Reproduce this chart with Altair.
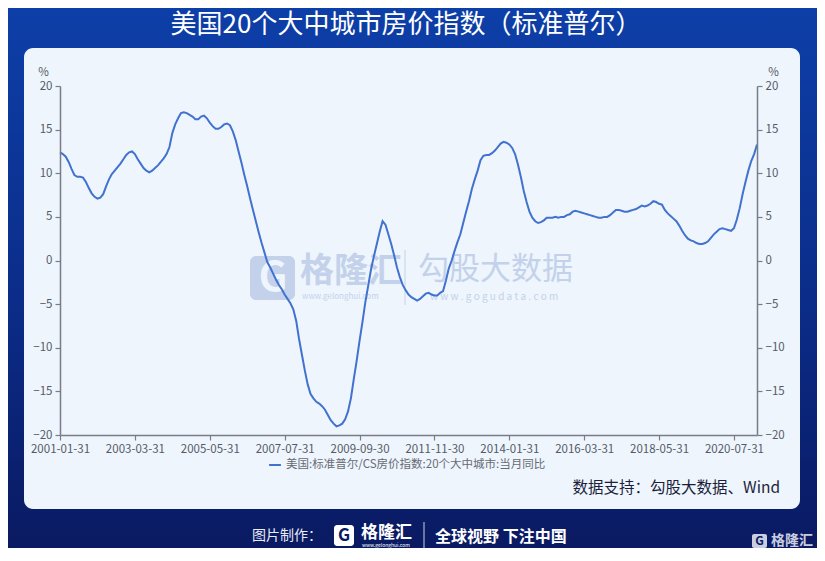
import altair as alt
import pandas as pd

TITLE = "美国20个大中城市房价指数（标准普尔）"
SERIES_NAME = "美国:标准普尔/CS房价指数:20个大中城市:当月同比"
SOURCE = "数据支持：勾股大数据、Wind"
FIRST_MONTH = "2001-01-31"
TICK_STEP = 26  # the x axis shows one label every 26 months

# S&P/Case-Shiller 20-city composite, year-over-year change (%)
yoy_2001 = [12.4, 12.2, 11.9, 11.3, 10.5, 9.8, 9.6, 9.6, 9.5, 9.0, 8.3, 7.7]
yoy_2002 = [7.3, 7.1, 7.2, 7.6, 8.5, 9.3, 9.9, 10.3, 10.7, 11.1, 11.6, 12.1]
yoy_2003 = [12.4, 12.5, 12.2, 11.6, 11.1, 10.6, 10.3, 10.1, 10.3, 10.6, 10.9, 11.3]
yoy_2004 = [11.7, 12.2, 13.0, 14.6, 15.6, 16.3, 16.9, 17.0, 16.9, 16.7, 16.5, 16.2]
yoy_2005 = [16.2, 16.5, 16.6, 16.3, 15.8, 15.4, 15.1, 15.1, 15.3, 15.6, 15.7, 15.5]
yoy_2006 = [14.8, 13.8, 12.5, 11.2, 9.8, 8.5, 7.1, 5.8, 4.5, 3.2, 2.0, 0.9]
yoy_2007 = [-0.2, -0.8, -1.5, -2.2, -2.8, -3.3, -3.9, -4.4, -4.9, -5.6, -6.9, -9.0]
yoy_2008 = [-10.8, -12.6, -14.2, -15.3, -15.8, -16.2, -16.4, -16.7, -17.1, -17.7, -18.3, -18.7]
yoy_2009 = [-19.0, -18.9, -18.7, -18.2, -17.3, -15.8, -13.6, -11.5, -9.2, -7.1, -4.8, -2.9]
yoy_2010 = [-1.0, 0.5, 1.9, 3.3, 4.5, 4.1, 3.0, 1.9, 0.6, -0.8, -1.9, -2.8]
yoy_2011 = [-3.4, -3.9, -4.2, -4.4, -4.6, -4.4, -4.1, -3.8, -3.7, -3.9, -4.0, -4.0]
yoy_2012 = [-3.7, -3.5, -2.3, -0.9, 0.0, 1.1, 2.1, 3.0, 4.3, 5.6, 6.8, 8.2]
yoy_2013 = [9.3, 10.3, 11.5, 12.0, 12.1, 12.1, 12.3, 12.6, 13.0, 13.4, 13.6, 13.5]
yoy_2014 = [13.3, 12.9, 12.2, 11.0, 9.6, 8.0, 6.7, 5.6, 4.9, 4.5, 4.3, 4.4]
yoy_2015 = [4.6, 4.9, 4.9, 4.9, 5.0, 4.9, 5.0, 5.0, 5.2, 5.3, 5.6, 5.7]
yoy_2016 = [5.6, 5.5, 5.4, 5.3, 5.2, 5.1, 5.0, 4.9, 4.9, 5.0, 5.0, 5.2]
yoy_2017 = [5.5, 5.8, 5.8, 5.7, 5.6, 5.6, 5.7, 5.8, 5.9, 6.1, 6.3, 6.2]
yoy_2018 = [6.3, 6.5, 6.8, 6.7, 6.5, 6.4, 5.8, 5.4, 5.1, 4.8, 4.5, 4.0]
yoy_2019 = [3.4, 2.9, 2.5, 2.3, 2.2, 2.0, 1.9, 1.9, 2.0, 2.2, 2.6, 3.0]
yoy_2020 = [3.3, 3.6, 3.7, 3.6, 3.5, 3.4, 3.7, 4.7, 6.0, 7.6, 9.0, 10.3]
yoy_2021 = [11.4, 12.2, 13.3]

yoy = (yoy_2001 + yoy_2002 + yoy_2003 + yoy_2004 + yoy_2005 + yoy_2006
       + yoy_2007 + yoy_2008 + yoy_2009 + yoy_2010 + yoy_2011 + yoy_2012
       + yoy_2013 + yoy_2014 + yoy_2015 + yoy_2016 + yoy_2017 + yoy_2018
       + yoy_2019 + yoy_2020 + yoy_2021)

n = len(yoy)
months = pd.date_range(FIRST_MONTH, periods=n, freq="ME")
tick_idx = list(range(0, n, TICK_STEP))
tick_labels = [months[i].strftime("%Y-%m-%d") for i in tick_idx]

df = pd.DataFrame({"idx": range(n), "yoy": yoy, "series": SERIES_NAME})

FONT = "Noto Sans CJK SC"
LINE_COLOR = "#4172cf"
AXIS_COLOR = "#7a7d86"
LABEL_COLOR = "#555a66"
PANEL_COLOR = "#eef5fd"
W, H = 697, 349
PAD = {"left": 52, "top": 78, "right": 60, "bottom": 113}

one = pd.DataFrame({"a": [0]})


def box(x, x2, y, y2, color, radius=0, opacity=1.0):
    return alt.Chart(one).mark_rect(
        color=color, cornerRadius=radius, opacity=opacity
    ).encode(x=alt.value(x), x2=alt.value(x2), y=alt.value(y), y2=alt.value(y2))


def label(text, x, y, size, color, weight="normal", align="left", opacity=1.0):
    return alt.Chart(pd.DataFrame({"t": [text]})).mark_text(
        align=align, baseline="middle", font=FONT, fontSize=size,
        fontWeight=weight, color=color, opacity=opacity,
    ).encode(text="t:N", x=alt.value(x), y=alt.value(y))


# page background (blue gradient) and the light panel
background = box(
    -PAD["left"], W + PAD["right"], -PAD["top"], H + PAD["bottom"],
    alt.Gradient(
        gradient="linear", x1=0, x2=0, y1=0, y2=1,
        stops=[
            alt.GradientStop(color="#0d3fa8", offset=0),
            alt.GradientStop(color="#0b2c88", offset=0.55),
            alt.GradientStop(color="#0a1a62", offset=1),
        ],
    ),
)
panel = box(-36, 740, -38, 423, PANEL_COLOR, radius=9)

# watermark
wm_color = "#c3d2ea"
watermark = [
    box(190, 235, 170, 214, wm_color, radius=6),
    label("G", 213, 193, 40, PANEL_COLOR, weight="bold", align="center"),
    label("格隆汇", 240, 186, 34, wm_color, weight="bold"),
    label("www.gelonghui.com", 242, 211, 8, wm_color),
    box(344.5, 345.5, 164, 219, wm_color),
    label("勾股大数据", 358, 184, 31, wm_color),
    label("w w w . g o g u d a t a . c o m", 370, 211, 10, wm_color),
]

x_enc = alt.X(
    "idx:Q",
    scale=alt.Scale(domain=[0, n - 1], nice=False, zero=False),
    axis=alt.Axis(
        values=tick_idx,
        labelExpr="[" + ",".join(f"'{t}'" for t in tick_labels) + f"][datum.value / {TICK_STEP}]",
        title=None, grid=False, labelFlush=False, labelOverlap=False,
        labelPadding=3, tickSize=5, zindex=1,
    ),
)

y_scale = alt.Scale(domain=[-20, 20], nice=False)

line = alt.Chart(df).mark_line(strokeWidth=2).encode(
    x=x_enc,
    y=alt.Y(
        "yoy:Q", scale=y_scale,
        axis=alt.Axis(
            orient="left", values=list(range(-20, 21, 5)), title="%",
            titleAngle=0, titleX=-17, titleY=-14, titleAlign="center",
            titleBaseline="middle", grid=False, tickSize=5, labelPadding=3,
            zindex=1,
        ),
    ),
    color=alt.Color(
        "series:N",
        scale=alt.Scale(range=[LINE_COLOR]),
        legend=alt.Legend(
            orient="none", legendX=208, legendY=372, title=None,
            symbolType="stroke", symbolStrokeWidth=2, symbolSize=140,
            labelFont=FONT, labelFontSize=11.5, labelColor="#666a74",
            labelLimit=0, direction="horizontal",
        ),
    ),
)

right_axis = alt.Chart(df).mark_line(opacity=0).encode(
    x=x_enc,
    y=alt.Y(
        "yoy:Q", scale=y_scale,
        axis=alt.Axis(
            orient="right", values=list(range(-20, 21, 5)), title="%",
            titleAngle=0, titleX=16, titleY=-14, titleAlign="center",
            titleBaseline="middle", grid=False, tickSize=5, labelPadding=3,
            zindex=1,
        ),
    ),
)

texts = [
    label(TITLE, 346, -61, 26, "#ffffff", align="center"),
    label(SOURCE, 720, 402, 15.5, "#1b1f3b", align="right"),
    # footer
    label("图片制作：", 192, 450, 14, "#e9edf7"),
    box(274, 294, 439, 460, "#ffffff", radius=3),
    label("G", 284, 450, 17, "#0a1a62", weight="bold", align="center"),
    label("格隆汇", 301, 447, 17, "#ffffff", weight="bold"),
    label("www.gelonghui.com", 302, 459, 5, "#ffffff"),
    box(363.5, 364.5, 436, 464, "#c9cfe4"),
    label("全球视野 下注中国", 375, 451, 16, "#ffffff", weight="bold"),
    # bottom-right logo
    box(692, 707, 448, 462, "#c8cde0", radius=2),
    label("G", 699.5, 455, 12, "#0a1a62", weight="bold", align="center"),
    label("格隆汇", 711, 455, 14, "#c8cde0", weight="bold"),
]

chart = (
    alt.layer(background, panel, *watermark, line, right_axis, *texts)
    .resolve_scale(y="independent")
    .properties(
        width=W, height=H,
        autosize=alt.AutoSizeParams(type="none"),
        padding=PAD,
    )
    .configure_view(strokeWidth=0)
    .configure_axis(
        domainColor=AXIS_COLOR, domainWidth=1.5, tickColor=AXIS_COLOR,
        tickWidth=1.2, labelColor=LABEL_COLOR, labelFont=FONT,
        labelFontSize=11.5, titleFont=FONT, titleFontSize=11.5,
        titleColor=LABEL_COLOR, titleFontWeight="normal",
    )
)

chart.save("out.html", embed_options={"renderer": "svg", "actions": False})
